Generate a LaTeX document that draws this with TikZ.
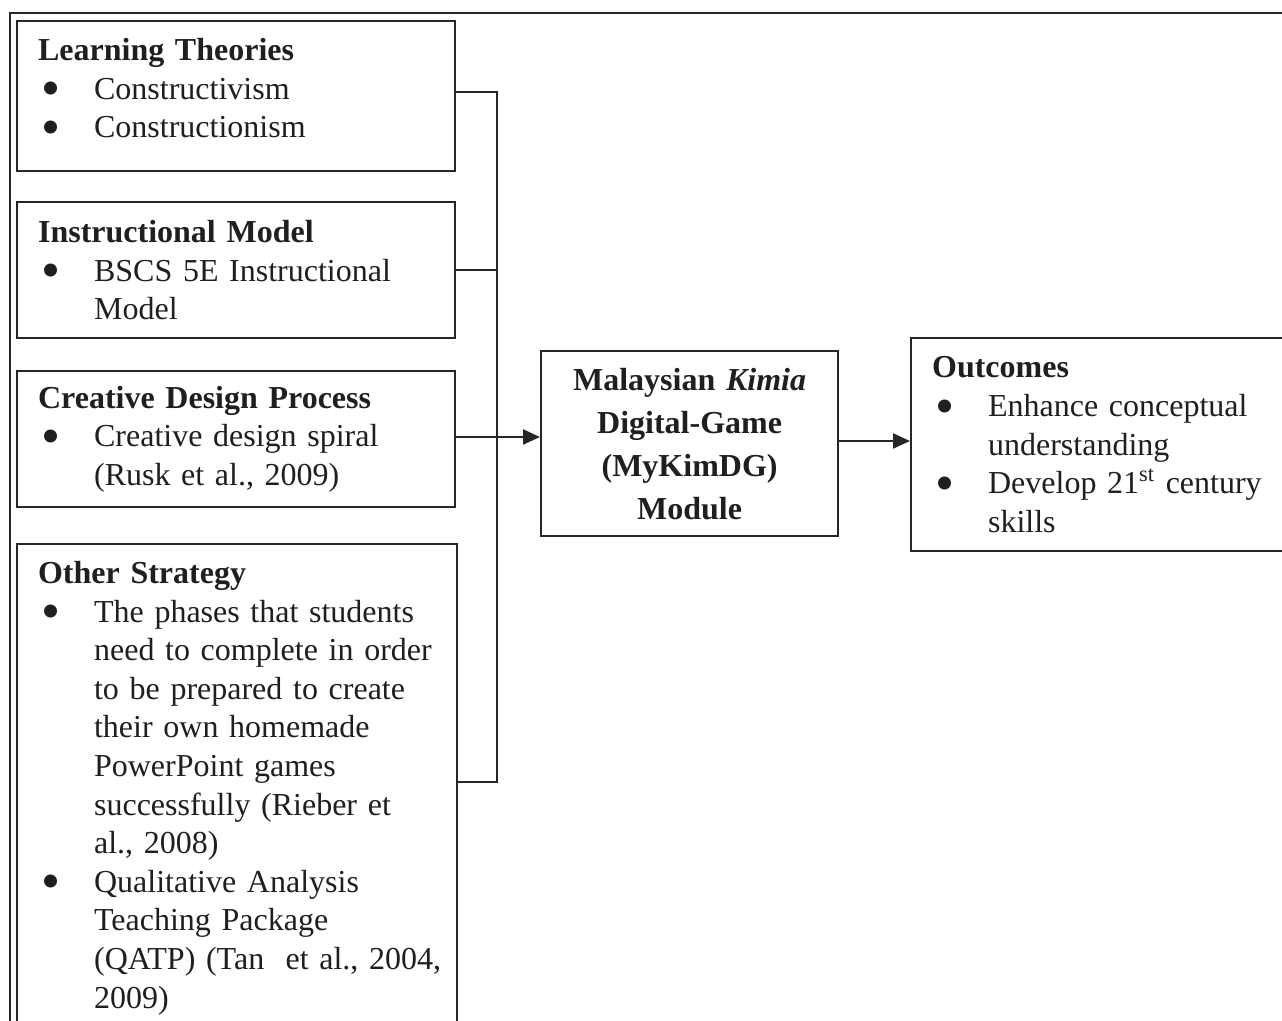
\documentclass[tikz,border=0pt]{standalone}
\usepackage{fontspec}
\usepackage{graphicx}
\setmainfont{Liberation Serif}
\usetikzlibrary{arrows.meta}

% bullet entry with hanging indent, \nl breaks a line inside it
\newcommand{\nl}{\hfil\break}
\newcommand{\bigbullet}{\smash{\raisebox{-3.8pt}{\scalebox{1.7}{\textbullet}}}}
\newcommand{\bitem}[1]{\par\hangindent=28pt\hangafter=1\noindent\makebox[28pt][l]{\hspace{1.5pt}\bigbullet}#1\par}

\begin{document}
\begin{tikzpicture}[
        x=0.5pt,y=-0.5pt,
        every node/.style={font=\fontsize{16}{19.3}\selectfont, text=black!88},
        framebox/.style={draw=black!85, line width=1.1pt, rectangle, anchor=north west, inner xsep=10.5pt, inner ysep=0pt, align=left},
        midbox/.style={framebox, align=center, font=\fontsize{16}{21.5}\selectfont\bfseries},
        line/.style={draw=black!85, line width=1.1pt},
        arrow/.style={line, -{Triangle[length=8.5pt,width=7.5pt]}},
    ]
    \useasboundingbox (0,0) rectangle (1282,1021);
    \clip (0,0) rectangle (1282,1021);
    \fill[white] (0,0) rectangle (1282,1021);
    % outer frame
    \draw[line] (10,1040) -- (10,13) -- (1300,13);

    \node[framebox, text width=198pt, minimum height=75pt] (lt) at (16,20) {\textbf{Learning Theories}
        \bitem{Constructivism}
        \bitem{Constructionism}\vspace{8pt}};
    \node[framebox, text width=198pt, minimum height=68pt] (im) at (16,201) {\textbf{Instructional Model}
        \bitem{BSCS 5E Instructional\nl Model}};
    \node[framebox, text width=198pt, minimum height=68pt] (cdp) at (16,370) {\textbf{Creative Design Process}
        \bitem{Creative design spiral\nl (Rusk et al., 2009)}};
    % runs past the lower edge
    \node[framebox, text width=199pt, minimum height=244pt] (os) at (16,543) {\textbf{Other Strategy}
        \bitem{The phases that students\nl need to complete in order\nl to be prepared to create\nl their own homemade\nl PowerPoint games\nl successfully (Rieber et\nl al., 2008)}
        \bitem{Qualitative Analysis\nl Teaching Package\nl \makebox[150pt][l]{(QATP) (Tan\ \ et al., 2004,}\nl 2009)}};
    \node[midbox, text width=127.5pt, minimum height=92.5pt] (mk) at (540,350) {Malaysian \textit{Kimia}\\Digital-Game\\(MyKimDG)\\Module};
    \node[framebox, text width=169pt, minimum height=106.5pt] (out) at (910,337) {\textbf{Outcomes}
        \bitem{Enhance conceptual\nl understanding}
        \bitem{Develop 21\textsuperscript{st} century\nl skills}};

    % collecting line on the left
    \coordinate (bustop) at (497,92);
    \coordinate (busbot) at (497,782);
    \draw[line] (lt.east |- bustop) -- (bustop) -- (busbot) -- (os.east |- busbot);
    \draw[line] (im.east) -- (im.east -| bustop);
    \draw[arrow] (cdp.east |- 0,437) -- (mk.west |- 0,437);
    \draw[arrow] (mk.east |- 0,441) -- (out.west |- 0,441);
\end{tikzpicture}
\end{document}
